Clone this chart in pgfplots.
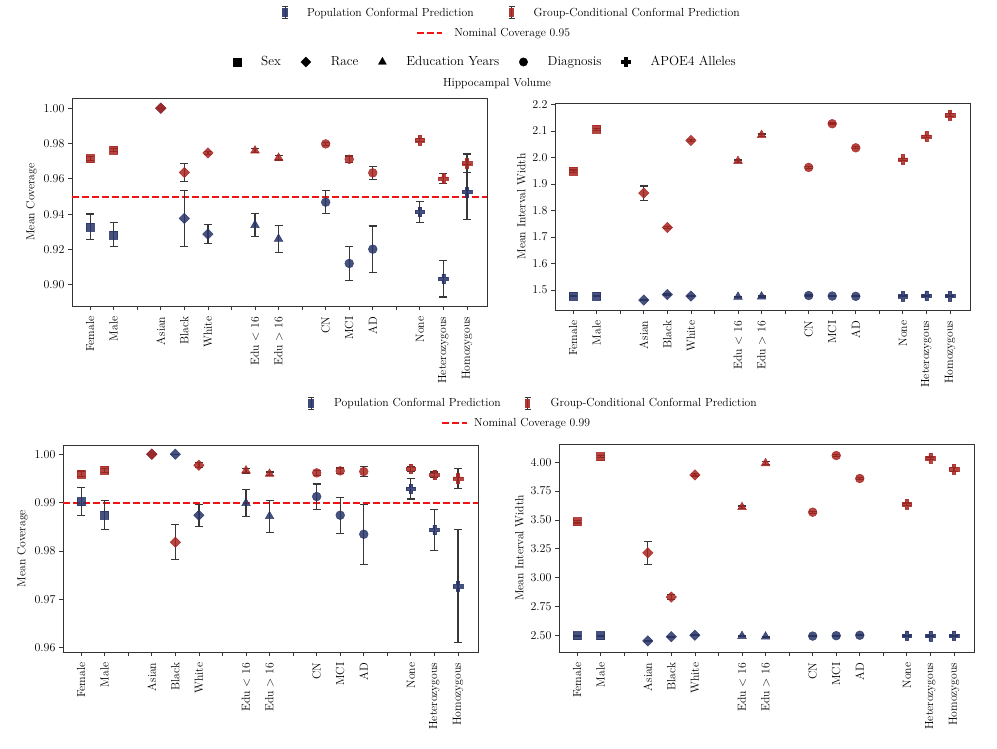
\documentclass[border=0pt]{standalone}
\usepackage{pgfplots}
\pgfplotsset{compat=1.18}
\usepackage{pgfplotstable}

\definecolor{popblue}{RGB}{40,52,104}
\definecolor{grpred}{RGB}{168,36,32}
\definecolor{errgray}{RGB}{55,55,55}
\definecolor{nomred}{RGB}{240,20,20}
\newcommand\fs{\fontsize{11.7}{14}\selectfont}
\newcommand\fl{\fontsize{13.2}{16}\selectfont}

% matplotlib-like diamond and filled plus
\pgfdeclareplotmark{mdiam}{%
  \pgfpathmoveto{\pgfqpoint{0pt}{\pgfplotmarksize}}%
  \pgfpathlineto{\pgfqpoint{\pgfplotmarksize}{0pt}}%
  \pgfpathlineto{\pgfqpoint{0pt}{-\pgfplotmarksize}}%
  \pgfpathlineto{\pgfqpoint{-\pgfplotmarksize}{0pt}}%
  \pgfpathclose\pgfusepathqfillstroke}
\pgfdeclareplotmark{mplus}{%
  \pgfpathmoveto{\pgfqpoint{-0.34\pgfplotmarksize}{\pgfplotmarksize}}%
  \pgfpathlineto{\pgfqpoint{0.34\pgfplotmarksize}{\pgfplotmarksize}}%
  \pgfpathlineto{\pgfqpoint{0.34\pgfplotmarksize}{0.34\pgfplotmarksize}}%
  \pgfpathlineto{\pgfqpoint{\pgfplotmarksize}{0.34\pgfplotmarksize}}%
  \pgfpathlineto{\pgfqpoint{\pgfplotmarksize}{-0.34\pgfplotmarksize}}%
  \pgfpathlineto{\pgfqpoint{0.34\pgfplotmarksize}{-0.34\pgfplotmarksize}}%
  \pgfpathlineto{\pgfqpoint{0.34\pgfplotmarksize}{-\pgfplotmarksize}}%
  \pgfpathlineto{\pgfqpoint{-0.34\pgfplotmarksize}{-\pgfplotmarksize}}%
  \pgfpathlineto{\pgfqpoint{-0.34\pgfplotmarksize}{-0.34\pgfplotmarksize}}%
  \pgfpathlineto{\pgfqpoint{-\pgfplotmarksize}{-0.34\pgfplotmarksize}}%
  \pgfpathlineto{\pgfqpoint{-\pgfplotmarksize}{0.34\pgfplotmarksize}}%
  \pgfpathlineto{\pgfqpoint{-0.34\pgfplotmarksize}{0.34\pgfplotmarksize}}%
  \pgfpathclose\pgfusepathqfillstroke}

% x: category position, g: group (s sex, r race, e education, d diagnosis, a apoe4)
\pgfplotstableread{
x  g pop     popE    grp     grpE
0  s 0.9328  0.0073  0.9715  0.0010
1  s 0.9283  0.0068  0.9764  0.0010
3  r 1.0000  0.0000  1.0000  0.0000
4  r 0.9376  0.0160  0.9636  0.0050
5  r 0.9287  0.0053  0.9747  0.0010
7  e 0.9338  0.0066  0.9760  0.0010
8  e 0.9260  0.0076  0.9719  0.0012
10 d 0.9468  0.0064  0.9798  0.0010
11 d 0.9121  0.0095  0.9711  0.0019
12 d 0.9202  0.0131  0.9634  0.0037
14 a 0.9413  0.0060  0.9819  0.0008
15 a 0.9034  0.0103  0.9602  0.0028
16 a 0.9525  0.0155  0.9689  0.0052
}\covA
\pgfplotstableread{
x  g pop     popE    grp     grpE
0  s 1.4774  0.002   1.949   0.004
1  s 1.4774  0.002   2.107   0.004
3  r 1.462   0.002   1.866   0.027
4  r 1.4825  0.002   1.736   0.005
5  r 1.477   0.002   2.065   0.003
7  e 1.474   0.002   1.987   0.004
8  e 1.475   0.002   2.085   0.004
10 d 1.479   0.002   1.963   0.003
11 d 1.477   0.002   2.128   0.003
12 d 1.476   0.002   2.037   0.004
14 a 1.476   0.002   1.993   0.004
15 a 1.478   0.002   2.080   0.004
16 a 1.477   0.002   2.160   0.006
}\widA
\pgfplotstableread{
x  g pop     popE    grp     grpE
0  s 0.99021 0.0029  0.99593 0.0005
1  s 0.98738 0.0030  0.99669 0.0004
3  r 1.00000 0.0000  1.00000 0.0000
4  r 1.00000 0.0000  0.98179 0.0036
5  r 0.98738 0.0023  0.99772 0.0005
7  e 0.98986 0.0028  0.99662 0.0005
8  e 0.98717 0.0033  0.99593 0.0004
10 d 0.99124 0.0026  0.99614 0.0005
11 d 0.98738 0.0037  0.99655 0.0006
12 d 0.98345 0.0062  0.99641 0.0011
14 a 0.99283 0.0021  0.99697 0.0005
15 a 0.98434 0.0043  0.99572 0.0006
16 a 0.97269 0.0117  0.99497 0.0021
}\covB
\pgfplotstableread{
x  g pop     popE    grp     grpE
0  s 2.4965  0.005   3.486   0.012
1  s 2.4965  0.005   4.049   0.010
3  r 2.451   0.004   3.215   0.100
4  r 2.488   0.004   2.831   0.022
5  r 2.500   0.004   3.890   0.010
7  e 2.493   0.004   3.610   0.010
8  e 2.488   0.004   3.991   0.012
10 d 2.493   0.004   3.567   0.008
11 d 2.4965  0.004   4.058   0.008
12 d 2.500   0.004   3.859   0.012
14 a 2.4965  0.004   3.636   0.010
15 a 2.493   0.004   4.035   0.010
16 a 2.4965  0.004   3.939   0.016
}\widB

\tikzset{nominal/.style={nomred, line width=2pt, dash pattern=on 7pt off 3pt}}

\pgfplotsset{
  panel/.style={scale only axis, width=415pt, height=208pt,
    xmin=-0.77, xmax=16.85,
    xtick={0,...,16},
    xticklabels={Female,Male,{},Asian,Black,White,{},Edu $<$ 16,Edu $>$ 16,{},CN,MCI,AD,{},None,Heterozygous,Homozygous},
    x tick label style={rotate=90, anchor=east, inner xsep=6.5pt},
    tick align=outside, xtick pos=left, ytick pos=left,
    major tick length=4pt,
    tick style={errgray, line width=0.8pt},
    axis line style={black!80, line width=0.8pt},
    font=\fs, ticklabel style={font=\fs}, label style={font=\fs},
    scaled y ticks=false,
    yticklabel style={/pgf/number format/fixed, /pgf/number format/fixed zerofill, /pgf/number format/precision=2},
  },
  % error bars alone, drawn under the markers
  errs/.style={draw=none, mark=none, forget plot,
    error bars/.cd, y dir=both, y explicit,
    error bar style={errgray, line width=1.2pt},
    error mark=-,
    error mark options={rotate=90, errgray, line width=1.2pt, mark size=4pt}},
  cls/.style={scatter, only marks, scatter src=explicit symbolic,
    scatter/classes={
      s={mark=square*, mark size=4pt, draw=#1, fill=#1},
      r={mark=mdiam, mark size=5.2pt, draw=#1, fill=#1},
      e={mark=triangle*, mark size=5pt, draw=#1, fill=#1},
      d={mark=*, mark size=4.4pt, draw=#1, fill=#1},
      a={mark=mplus, mark size=4.8pt, draw=#1, fill=#1}},
    mark options={fill opacity=0.85, draw opacity=0.85, line width=0.5pt}},
  errleg/.style={legend image code/.code={
      \path[draw=none, fill=none] (0pt,-6pt) rectangle (17pt,6pt);
      \draw[errgray, line width=1pt] (8.5pt,-6pt) -- (8.5pt,6pt) (5.5pt,6pt) -- (11.5pt,6pt) (5.5pt,-6pt) -- (11.5pt,-6pt);
      \fill[#1, fill opacity=0.9, draw=none] (5.7pt,-4.5pt) rectangle (11.3pt,4.5pt);}},
  lineleg/.style={legend image code/.code={
      \draw[nominal] (0pt,0pt) -- (25pt,0pt);}},
  legax/.style={hide axis, scale only axis, width=997pt, height=748pt,
    at={(0pt,0pt)}, anchor=south west, xmin=0, xmax=1, ymin=0, ymax=1,
    legend style={draw=none, fill=none, font=\fs, legend columns=-1,
      anchor=west, inner sep=0pt, nodes={inner sep=0pt}}},
}

\begin{document}
\begin{tikzpicture}
\useasboundingbox (0pt,0pt) rectangle (997pt,748pt);

% top legends
\begin{axis}[legax, legend style={at={(0.2773,0.9826)},
    /tikz/every odd column/.append style={column sep=13.5pt},
    /tikz/every even column/.append style={column sep=29.5pt}}]
  \addlegendimage{errleg=popblue}
  \addlegendentry{Population Conformal Prediction}
  \addlegendimage{errleg=grpred}
  \addlegendentry{Group-Conditional Conformal Prediction}
\end{axis}
\begin{axis}[legax, legend style={at={(0.4173,0.9559)},
    /tikz/every odd column/.append style={column sep=11pt}}]
  \addlegendimage{lineleg}
  \addlegendentry{Nominal Coverage 0.95}
\end{axis}
\begin{axis}[legax, legend style={at={(0.2337,0.9171)}, font=\fl,
    /tikz/every odd column/.append style={column sep=20pt},
    /tikz/every even column/.append style={column sep=20pt}}]
  \addlegendimage{only marks, mark=square*, mark size=4pt, black}
  \addlegendentry{Sex}
  \addlegendimage{only marks, mark=mdiam, mark size=5pt, black}
  \addlegendentry{Race}
  \addlegendimage{only marks, mark=triangle*, mark size=4.6pt, black}
  \addlegendentry{Education Years}
  \addlegendimage{only marks, mark=*, mark size=4.2pt, black}
  \addlegendentry{Diagnosis}
  \addlegendimage{only marks, mark=mplus, mark size=4.6pt, black}
  \addlegendentry{APOE4 Alleles}
\end{axis}
\node[font=\fs] at (497pt,664pt) {Hippocampal Volume};

% middle legends
\begin{axis}[legax, legend style={at={(0.3034,0.4612)},
    /tikz/every odd column/.append style={column sep=14.5pt},
    /tikz/every even column/.append style={column sep=18.5pt}}]
  \addlegendimage{errleg=popblue}
  \addlegendentry{Population Conformal Prediction}
  \addlegendimage{errleg=grpred}
  \addlegendentry{Group-Conditional Conformal Prediction}
\end{axis}
\begin{axis}[legax, legend style={at={(0.4423,0.4345)},
    /tikz/every odd column/.append style={column sep=6pt}}]
  \addlegendimage{lineleg}
  \addlegendentry{Nominal Coverage 0.99}
\end{axis}

% top-left: coverage 0.95
\begin{axis}[panel, at={(72pt,442pt)}, anchor=south west,
    ymin=0.888, ymax=1.0058, ytick={0.90,0.92,...,1.001},
    ylabel={Mean Coverage}]
  \addplot[nominal] coordinates {(-0.77,0.95) (16.85,0.95)};
  \addplot[errs] table[x=x, y=pop, y error=popE] {\covA};
  \addplot[cls=popblue] table[x=x, y=pop, meta=g] {\covA};
  \addplot[errs] table[x=x, y=grp, y error=grpE] {\covA};
  \addplot[cls=grpred] table[x=x, y=grp, meta=g] {\covA};
\end{axis}

% top-right: width 0.95
\begin{axis}[panel, at={(555pt,438pt)}, anchor=south west, height=207pt,
    ymin=1.4243, ymax=2.2063, ytick={1.5,1.6,...,2.21},
    yticklabel style={/pgf/number format/precision=1},
    ylabel={Mean Interval Width}]
  \addplot[errs] table[x=x, y=pop, y error=popE] {\widA};
  \addplot[cls=popblue] table[x=x, y=pop, meta=g] {\widA};
  \addplot[errs] table[x=x, y=grp, y error=grpE] {\widA};
  \addplot[cls=grpred] table[x=x, y=grp, meta=g] {\widA};
\end{axis}

% bottom-left: coverage 0.99
\begin{axis}[panel, at={(63pt,96pt)}, anchor=south west, height=207pt,
    ymin=0.9591, ymax=1.0019, ytick={0.96,0.97,...,1.001},
    ylabel={Mean Coverage}]
  \addplot[nominal] coordinates {(-0.77,0.99) (16.85,0.99)};
  \addplot[errs] table[x=x, y=pop, y error=popE] {\covB};
  \addplot[cls=popblue] table[x=x, y=pop, meta=g] {\covB};
  \addplot[errs] table[x=x, y=grp, y error=grpE] {\covB};
  \addplot[cls=grpred] table[x=x, y=grp, meta=g] {\covB};
\end{axis}

% bottom-right: width 0.99
\begin{axis}[panel, at={(559pt,96pt)}, anchor=south west,
    ymin=2.355, ymax=4.158, ytick={2.5,2.75,...,4.01},
    ylabel={Mean Interval Width}]
  \addplot[errs] table[x=x, y=pop, y error=popE] {\widB};
  \addplot[cls=popblue] table[x=x, y=pop, meta=g] {\widB};
  \addplot[errs] table[x=x, y=grp, y error=grpE] {\widB};
  \addplot[cls=grpred] table[x=x, y=grp, meta=g] {\widB};
\end{axis}
\end{tikzpicture}
\end{document}
